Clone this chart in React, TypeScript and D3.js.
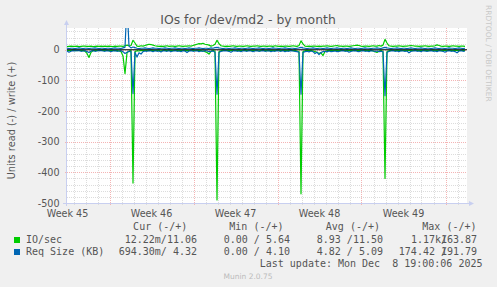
import React from "react";
import * as d3 from "d3";

// ---- data (4-hour samples, starting at the left edge of the graph) ----
const startTime = new Date(2025, 10, 5, 11, 0, 0);
const endTime = new Date(2025, 11, 8, 19, 0, 0);
const stepHours = 4;

// IO/sec write (+)
const ioWrite = [
  10, 11, 12, 11, 11, 12, 10, 11, 12, 12, 11, 11, 12, 10, 11, 12, 11, 12, 11, 12,
  11, 12, 11, 10, 12, 11, 12, 12, 11, 13, 15, 13, 14, 31, 22, 12, 11, 13, 12, 14,
  16, 18, 17, 15, 13, 12, 11, 12, 11, 12, 13, 11, 12, 12, 11, 12, 13, 12, 11, 12,
  12, 13, 12, 14, 16, 18, 20, 19, 21, 18, 17, 15, 12, 14, 18, 31, 20, 13, 12, 11,
  12, 11, 12, 13, 12, 11, 12, 12, 11, 12, 13, 12, 11, 12, 12, 13, 12, 11, 12, 12,
  11, 12, 12, 11, 13, 12, 11, 12, 11, 12, 12, 11, 12, 13, 12, 11, 14, 29, 19, 12,
  11, 12, 11, 12, 12, 11, 12, 11, 12, 12, 13, 12, 11, 12, 13, 14, 12, 12, 11, 12,
  12, 11, 12, 13, 14, 15, 14, 12, 11, 12, 12, 11, 12, 13, 12, 12, 14, 12, 15, 34,
  22, 13, 12, 11, 12, 12, 13, 12, 11, 12, 12, 13, 14, 13, 12, 12, 11, 12, 12, 13,
  12, 11, 12, 12, 13, 16, 14, 12, 11, 12, 12, 11, 12, 13, 12, 12, 11, 12, 12, 11,
];

// IO/sec read (-)
const ioRead = [
  -2, -3, -2, -1, -2, -3, -2, -2, -3, -5, -12, -25, -8, -3, -2, -2, -3, -2, -1, -2,
  -2, -3, -2, -2, -3, -2, -4, -6, -20, -78, -10, -4, -3, -435, -6, -3, -4, -2, -3, -2,
  -2, -3, -1, -2, -3, -2, -2, -4, -2, -1, -3, -2, -2, -3, -2, -1, -3, -2, -2, -3,
  -2, -3, -2, -1, -3, -2, -2, -3, -4, -6, -9, -14, -5, -3, -4, -490, -6, -3, -2, -2,
  -2, -3, -2, -1, -3, -2, -2, -3, -2, -1, -3, -2, -2, -3, -2, -2, -4, -2, -1, -3,
  -2, -3, -2, -2, -3, -1, -2, -3, -2, -2, -3, -2, -1, -3, -2, -4, -5, -470, -6, -3,
  -2, -3, -2, -4, -6, -8, -12, -10, -19, -6, -3, -2, -2, -3, -2, -1, -3, -2, -2, -3,
  -2, -3, -1, -2, -3, -2, -2, -3, -2, -1, -3, -2, -2, -4, -6, -9, -4, -3, -5, -420,
  -6, -3, -2, -2, -3, -1, -2, -3, -2, -2, -3, -2, -1, -3, -2, -2, -3, -2, -2, -3,
  -2, -3, -2, -1, -3, -2, -2, -3, -2, -2, -3, -1, -2, -3, -2, -2, -3, -2, -1, -3,
];

// Req Size (KB) write (+)
const reqWrite = [
  5, 4, 5, 5, 4, 5, 6, 5, 4, 5, 5, 4, 5, 5, 6, 5, 4, 5, 5, 4,
  5, 5, 4, 5, 6, 5, 5, 4, 6, 8, 150, 12, 6, 9, 7, 5, 4, 5, 5, 6,
  5, 4, 5, 6, 5, 5, 4, 5, 5, 6, 5, 4, 5, 5, 6, 5, 4, 5, 5, 4,
  5, 6, 5, 4, 5, 5, 6, 5, 4, 5, 5, 4, 6, 5, 7, 8, 6, 5, 4, 5,
  5, 4, 5, 5, 6, 5, 4, 5, 5, 4, 5, 6, 5, 4, 5, 5, 6, 5, 4, 5,
  5, 4, 5, 6, 5, 5, 4, 5, 5, 6, 5, 4, 5, 5, 4, 5, 6, 8, 6, 5,
  4, 5, 5, 6, 5, 4, 5, 5, 4, 5, 6, 5, 4, 5, 5, 6, 5, 4, 5, 5,
  4, 5, 6, 5, 4, 5, 5, 4, 5, 6, 5, 5, 4, 5, 5, 6, 5, 4, 6, 8,
  6, 5, 4, 5, 5, 6, 5, 4, 5, 5, 4, 5, 6, 5, 4, 5, 5, 6, 5, 4,
  5, 5, 4, 5, 6, 5, 4, 5, 5, 4, 5, 6, 5, 5, 4, 5, 6, 5, 4, 5,
];

// Req Size (KB) read (-)
const reqRead = [
  -4, -8, -5, -3, -4, -2, -3, -5, -4, -3, -6, -9, -4, -3, -5, -4, -2, -3, -4, -5,
  -3, -4, -6, -4, -3, -5, -4, -3, -6, -12, -8, -5, -6, -143, -8, -24, -10, -14, -6, -4,
  -5, -3, -4, -6, -3, -5, -4, -7, -3, -4, -5, -3, -6, -4, -3, -5, -4, -6, -3, -4,
  -9, -4, -3, -5, -4, -3, -6, -4, -5, -3, -4, -6, -5, -4, -8, -145, -9, -5, -4, -3,
  -4, -5, -8, -4, -3, -5, -4, -6, -3, -4, -5, -3, -4, -6, -4, -3, -5, -4, -3, -5,
  -4, -3, -6, -4, -5, -3, -4, -5, -3, -6, -4, -5, -3, -4, -5, -6, -8, -145, -9, -6,
  -5, -7, -4, -6, -12, -8, -16, -9, -6, -5, -7, -4, -6, -5, -4, -6, -5, -4, -3, -5,
  -4, -8, -5, -4, -3, -5, -6, -4, -3, -5, -4, -6, -3, -4, -5, -4, -6, -5, -7, -150,
  -9, -5, -4, -3, -5, -4, -6, -3, -4, -5, -4, -10, -5, -4, -3, -5, -4, -6, -3, -4,
  -5, -4, -3, -5, -4, -6, -3, -4, -5, -8, -4, -3, -5, -4, -6, -10, -4, -3, -5, -4,
];

const yMin = -500;
const yMax = 71;
const yLabelTicks = [0, -100, -200, -300, -400, -500];

const legendHeaders = ["Cur (-/+)", "Min (-/+)", "Avg (-/+)", "Max (-/+)"];
const seriesNames = ["IO/sec", "Req Size (KB)"];
const seriesColors = ["#00CC00", "#0066B3"];
const curValues = ["12.22m/11.06", "694.30m/ 4.32"];
const minValues = ["0.00 / 5.64", "0.00 / 4.10"];
const avgValues = ["8.93 /11.50", "4.82 / 5.09"];
const maxLeft = ["1.17k/", "174.42 /"];
const maxRight = ["163.87", "191.79"];

const W = 497;
const H = 287;
const L = 67;
const R = 467;
const T = 28;
const B = 203;

export default function App() {
  const x = d3.scaleTime().domain([startTime, endTime]).range([L, R]);
  const y = d3.scaleLinear().domain([yMin, yMax]).range([B, T]);
  const tAt = (i: number) => new Date(startTime.getTime() + i * stepHours * 3600 * 1000);

  const line = d3
    .line<number>()
    .x((_, i) => x(tAt(i)))
    .y((d) => y(d));

  const days = d3.timeDay.range(d3.timeDay.ceil(startTime), endTime);
  const weeks = d3.timeSunday.range(d3.timeSunday.ceil(startTime), endTime);
  const labelWeeks = d3.timeSunday
    .range(d3.timeSunday.floor(startTime), endTime)
    .map((d) => new Date(d.getTime() + 3.5 * 24 * 3600 * 1000))
    .filter((d) => d >= new Date(startTime.getTime() - 3600 * 1000) && d <= endTime);
  const fmt = d3.timeFormat("Week %V");

  const minorY = d3.range(yMin, yMax, 20).filter((v) => v % 100 !== 0);
  const majorY = d3.range(yMin, yMax, 100);

  const font = "'DejaVu Sans', sans-serif";
  const mono = "'DejaVu Sans Mono', monospace";
  const textCol = "#555";
  const axisCol = "#c8cff0";

  return (
    <svg
      width={W}
      height={H}
      style={{ position: "absolute", left: 0, top: 0, background: "#F0F0F0" }}
    >
      <defs>
        <clipPath id="plot">
          <rect x={L} y={T} width={R - L} height={B - T} />
        </clipPath>
      </defs>
      <rect x={0} y={0} width={W} height={H} fill="#F0F0F0" />
      <rect x={L} y={T} width={R - L} height={B - T} fill="#FFFFFF" />

      {/* grid */}
      <g shapeRendering="crispEdges" strokeWidth={1} strokeDasharray="1,1">
        {minorY.map((v) => (
          <line key={"my" + v} x1={L} x2={R} y1={Math.round(y(v)) + 0.5} y2={Math.round(y(v)) + 0.5} stroke="#dcdcdc" />
        ))}
        {days.map((d) => (
          <line key={"dx" + d.getTime()} x1={Math.round(x(d)) + 0.5} x2={Math.round(x(d)) + 0.5} y1={T} y2={B + 2} stroke="#dcdcdc" />
        ))}
        {majorY.map((v) => (
          <line key={"My" + v} x1={L - 2} x2={R} y1={Math.round(y(v)) + 0.5} y2={Math.round(y(v)) + 0.5} stroke="#f4b4b4" />
        ))}
        {weeks.map((d) => (
          <line key={"wx" + d.getTime()} x1={Math.round(x(d)) + 0.5} x2={Math.round(x(d)) + 0.5} y1={T} y2={B + 2} stroke="#f4b4b4" />
        ))}
      </g>

      {/* series */}
      <g clipPath="url(#plot)" fill="none" strokeWidth={1.2} strokeLinejoin="round">
        <path d={line(ioRead) || ""} stroke={seriesColors[0]} />
        <path d={line(ioWrite) || ""} stroke={seriesColors[0]} />
        <path d={line(reqRead) || ""} stroke={seriesColors[1]} />
        <path d={line(reqWrite) || ""} stroke={seriesColors[1]} />
        <line x1={L} x2={R} y1={y(0)} y2={y(0)} stroke="#000" strokeWidth={1.2} />
      </g>

      {/* axes */}
      <g stroke={axisCol} fill={axisCol} shapeRendering="crispEdges">
        <line x1={L - 0.5} x2={L - 0.5} y1={B + 3} y2={T - 4} />
        <line x1={L - 4} x2={R + 3} y1={B + 0.5} y2={B + 0.5} />
      </g>
      <path d={`M${L - 3},${T - 3} L${L + 2},${T - 3} L${L - 0.5},${T - 8} Z`} fill={axisCol} />
      <path d={`M${R + 2},${B - 2} L${R + 2},${B + 3} L${R + 7},${B + 0.5} Z`} fill={axisCol} />

      {/* y tick labels */}
      {yLabelTicks.map((v) => (
        <text key={"yl" + v} x={59.5} y={y(v) + 3.5} textAnchor="end" fontFamily={font} fontSize={9.6} fill={textCol}>
          {v}
        </text>
      ))}

      {/* x labels */}
      {labelWeeks.map((d) => (
        <text key={"xl" + d.getTime()} x={x(d)} y={216.5} textAnchor="middle" fontFamily={font} fontSize={9.6} fill={textCol}>
          {fmt(d)}
        </text>
      ))}

      {/* title */}
      <text x={248} y={24} textAnchor="middle" fontFamily={font} fontSize={12.4} fill={textCol}>
        IOs for /dev/md2 - by month
      </text>

      {/* y axis title */}
      <text
        transform={`translate(15,${120.5}) rotate(-90)`}
        textAnchor="middle"
        fontFamily={font}
        fontSize={9.8}
        fill={textCol}
      >
        Units read (-) / write (+)
      </text>

      {/* watermark */}
      <text transform="translate(486,5) rotate(90)" fontFamily={font} fontSize={7.5} fill="#c8c8c8">
        RRDTOOL / TOBI OETIKER
      </text>

      {/* legend */}
      <g fontFamily={mono} fontSize={10} fill={textCol} style={{ whiteSpace: "pre" }}>
        {legendHeaders.map((h, i) => (
          <text key={h} x={[187.3, 283.5, 380, 476.5][i]} y={230} textAnchor="end" xmlSpace="preserve">
            {h}
          </text>
        ))}
        {seriesNames.map((n, r) => {
          const yy = 242.5 + r * 12;
          return (
            <g key={n}>
              <rect x={14} y={yy - 5.5} width={6} height={6} fill={seriesColors[r]} />
              <text x={26} y={yy} xmlSpace="preserve">{n}</text>
              <text x={197} y={yy} textAnchor="end" xmlSpace="preserve">{curValues[r]}</text>
              <text x={290} y={yy} textAnchor="end" xmlSpace="preserve">{minValues[r]}</text>
              <text x={383} y={yy} textAnchor="end" xmlSpace="preserve">{avgValues[r]}</text>
              <text x={447} y={yy} textAnchor="end" xmlSpace="preserve">{maxLeft[r]}</text>
              <text x={477} y={yy} textAnchor="end" xmlSpace="preserve">{maxRight[r]}</text>
            </g>
          );
        })}
        <text x={482.5} y={266.5} textAnchor="end" xmlSpace="preserve">
          Last update: Mon Dec  8 19:00:06 2025
        </text>
      </g>
      <text x={248} y={279} textAnchor="middle" fontFamily={font} fontSize={7.5} fill="#bbbbbb">
        Munin 2.0.75
      </text>
    </svg>
  );
}
